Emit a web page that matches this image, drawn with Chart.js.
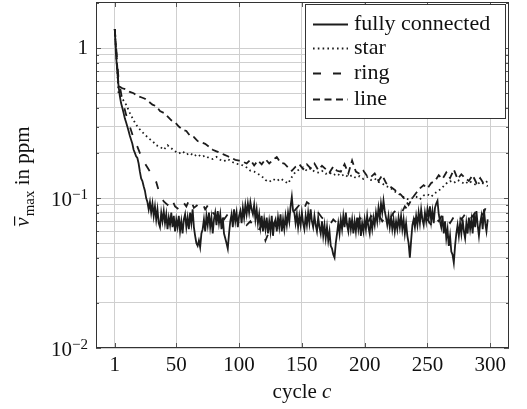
<!DOCTYPE html>
<html>
<head>
<meta charset="utf-8">
<script src="https://cdn.jsdelivr.net/npm/chart.js@4.4.0/dist/chart.umd.min.js"></script>
<style>
html, body { margin: 0; padding: 0; background: #fff; }
</style>
</head>
<body>
<canvas id="chart" width="527" height="409"></canvas>
<script>
// fully connected is read for every cycle 1..298, the others every 3rd cycle
var cyclesAll = [];
for (var c = 1; c <= 298; c++) cyclesAll.push(c);
var cycles3 = [];
for (var c = 1; c <= 298; c += 3) cycles3.push(c);

var fullyConnected = [
  1.34,0.9,0.7,0.56,0.48,0.43,0.40,0.37,0.34,0.32,
  0.30,0.28,0.26,0.245,0.23,0.21,0.2,0.19,0.185,0.17,
  0.15,0.135,0.13,0.12,0.112,0.1,0.094,0.084,0.094,0.08,
  0.092,0.076,0.088,0.072,0.084,0.068,0.064,0.08,0.07,0.082,
  0.068,0.078,0.062,0.074,0.066,0.08,0.064,0.076,0.06,0.072,
  0.064,0.076,0.06,0.07,0.058,0.072,0.078,0.064,0.074,0.062,
  0.08,0.068,0.084,0.064,0.056,0.05,0.048,0.052,0.047,0.058,
  0.062,0.072,0.06,0.076,0.066,0.08,0.064,0.074,0.058,0.072,
  0.08,0.066,0.082,0.068,0.078,0.062,0.074,0.058,0.054,0.05,
  0.046,0.058,0.07,0.078,0.064,0.084,0.07,0.08,0.064,0.076,
  0.082,0.068,0.086,0.074,0.09,0.078,0.092,0.08,0.094,0.084,
  0.078,0.09,0.072,0.084,0.068,0.078,0.064,0.076,0.06,0.072,
  0.062,0.074,0.058,0.07,0.06,0.076,0.056,0.068,0.072,0.06,
  0.074,0.064,0.078,0.06,0.072,0.062,0.076,0.066,0.08,0.07,
  0.088,0.102,0.082,0.08,0.068,0.078,0.064,0.076,0.066,0.08,
  0.068,0.062,0.076,0.066,0.08,0.068,0.084,0.07,0.064,0.076,
  0.066,0.06,0.074,0.064,0.058,0.07,0.056,0.066,0.054,0.064,
  0.052,0.06,0.048,0.046,0.042,0.04,0.05,0.058,0.068,0.058,
  0.072,0.062,0.076,0.064,0.08,0.066,0.06,0.074,0.062,0.072,
  0.058,0.07,0.06,0.074,0.062,0.072,0.056,0.068,0.06,0.072,
  0.062,0.076,0.064,0.058,0.072,0.062,0.074,0.066,0.08,0.07,
  0.086,0.074,0.092,0.08,0.096,0.082,0.074,0.066,0.076,0.064,
  0.074,0.062,0.072,0.06,0.07,0.062,0.074,0.064,0.076,0.062,
  0.072,0.058,0.068,0.056,0.05,0.04,0.052,0.066,0.072,0.064,
  0.076,0.066,0.08,0.068,0.084,0.072,0.066,0.08,0.07,0.084,
  0.074,0.088,0.07,0.082,0.068,0.086,0.092,0.096,0.078,0.07,
  0.064,0.076,0.058,0.07,0.054,0.062,0.048,0.056,0.044,0.042,
  0.037,0.048,0.058,0.066,0.056,0.068,0.058,0.072,0.06,0.054,
  0.068,0.058,0.074,0.062,0.072,0.058,0.078,0.064,0.082,0.066,
  0.056,0.068,0.076,0.062,0.084,0.068,0.06,0.072];

var star = [1.34,0.5,0.46,0.42,0.37,0.33,0.3,0.28,0.265,0.25,
  0.24,0.225,0.22,0.21,0.225,0.215,0.205,0.198,0.205,0.195,
  0.2,0.19,0.196,0.188,0.192,0.185,0.182,0.188,0.18,0.176,
  0.182,0.175,0.17,0.168,0.165,0.16,0.152,0.15,0.145,0.14,
  0.132,0.128,0.134,0.13,0.135,0.13,0.125,0.138,0.15,0.155,
  0.16,0.152,0.158,0.15,0.148,0.152,0.145,0.148,0.142,0.146,
  0.14,0.144,0.138,0.142,0.136,0.14,0.134,0.138,0.132,0.135,
  0.128,0.125,0.12,0.118,0.112,0.108,0.104,0.1,0.098,0.1,
  0.102,0.098,0.104,0.106,0.102,0.108,0.112,0.118,0.125,0.13,
  0.126,0.132,0.128,0.124,0.13,0.126,0.122,0.128,0.124,0.13];

var ring = [1.34,0.62,0.45,0.36,0.3,0.25,0.22,0.19,0.17,0.155,
  0.14,0.128,0.105,0.095,0.09,0.1,0.088,0.084,0.095,0.088,
  0.1,0.086,0.09,0.096,0.084,0.092,0.08,0.075,0.082,0.072,
  0.078,0.07,0.074,0.068,0.072,0.066,0.07,0.064,0.06,0.066,
  0.052,0.06,0.068,0.064,0.058,0.066,0.07,0.078,0.084,0.09,
  0.082,0.094,0.09,0.084,0.08,0.074,0.07,0.066,0.072,0.068,
  0.064,0.07,0.066,0.072,0.068,0.074,0.07,0.066,0.076,0.072,
  0.078,0.07,0.076,0.072,0.08,0.084,0.078,0.088,0.082,0.076,
  0.07,0.074,0.068,0.072,0.066,0.074,0.07,0.078,0.072,0.068,
  0.075,0.08,0.072,0.078,0.07,0.076,0.082,0.074,0.08,0.094];

var line = [1.34,0.56,0.54,0.53,0.51,0.5,0.48,0.47,0.46,0.44,
  0.42,0.41,0.38,0.37,0.35,0.33,0.32,0.3,0.285,0.28,
  0.26,0.255,0.24,0.235,0.23,0.22,0.21,0.205,0.2,0.195,
  0.19,0.185,0.18,0.178,0.175,0.17,0.18,0.165,0.178,0.168,
  0.182,0.17,0.18,0.188,0.172,0.17,0.16,0.152,0.162,0.168,
  0.156,0.168,0.158,0.17,0.154,0.164,0.156,0.148,0.162,0.152,
  0.15,0.168,0.146,0.178,0.15,0.145,0.152,0.14,0.138,0.146,
  0.13,0.142,0.126,0.12,0.115,0.11,0.105,0.098,0.09,0.1,
  0.108,0.116,0.122,0.116,0.126,0.13,0.142,0.134,0.148,0.136,
  0.155,0.134,0.144,0.136,0.13,0.142,0.126,0.136,0.124,0.12];

var seriesNames = ['fully connected', 'star', 'ring', 'line'];
var xTicks = [1, 50, 100, 150, 200, 250, 300];
var yTicks = [0.01,0.02,0.03,0.04,0.05,0.06,0.07,0.08,0.09,
  0.1,0.2,0.3,0.4,0.5,0.6,0.7,0.8,0.9,1,2];
// y labels: [value, mantissa text, exponent text]
var yLabels = [[1, '1', ''], [0.1, '10', '\u22121'], [0.01, '10', '\u22122']];

var FONT = '"Liberation Serif", "DejaVu Serif", serif';
var INK = '#1c1c1c';

function pts(xs, vals) {
  return xs.map(function(c, i) { return { x: c, y: vals[i] }; });
}

function mkSet(label, xs, vals, dash, width) {
  return {
    label: label,
    data: pts(xs, vals),
    borderColor: INK,
    borderWidth: width,
    borderDash: dash,
    borderCapStyle: 'butt',
    borderJoinStyle: 'miter',
    pointRadius: 0,
    fill: false,
    tension: 0
  };
}

var decor = {
  id: 'decor',
  afterDraw: function(chart) {
    var ctx = chart.ctx, a = chart.chartArea;
    var xs = chart.scales.x, ys = chart.scales.y;
    ctx.save();

    // small tick marks inside the frame
    ctx.strokeStyle = '#555';
    ctx.lineWidth = 1;
    ctx.beginPath();
    yTicks.forEach(function(v) {
      var y = Math.round(ys.getPixelForValue(v)) + 0.5;
      var len = (v === 1 || v === 0.1 || v === 0.01) ? 5 : 3;
      ctx.moveTo(a.left, y); ctx.lineTo(a.left + len, y);
      ctx.moveTo(a.right, y); ctx.lineTo(a.right - len, y);
    });
    xTicks.forEach(function(v) {
      var x = Math.round(xs.getPixelForValue(v)) + 0.5;
      ctx.moveTo(x, a.bottom); ctx.lineTo(x, a.bottom - 5);
      ctx.moveTo(x, a.top); ctx.lineTo(x, a.top + 5);
    });
    ctx.stroke();

    // frame
    ctx.strokeStyle = '#333';
    ctx.strokeRect(a.left + 0.5, a.top + 0.5, a.right - a.left - 1, a.bottom - a.top - 1);

    // y tick labels with superscript exponent
    ctx.fillStyle = '#111';
    ctx.textAlign = 'right';
    ctx.textBaseline = 'alphabetic';
    yLabels.forEach(function(l) {
      var y = ys.getPixelForValue(l[0]);
      var rx = a.left - 8;
      if (l[2]) {
        ctx.font = '15px ' + FONT;
        var we = ctx.measureText(l[2]).width;
        ctx.fillText(l[2], rx, y + 1);
        ctx.font = '21px ' + FONT;
        ctx.fillText(l[1], rx - we, y + 8);
      } else {
        ctx.font = '21px ' + FONT;
        ctx.fillText(l[1], rx, y + 6);
      }
    });
    ctx.textAlign = 'left';

    // legend
    var lx = 305, ly = 4, lw = 200, lh = 114;
    ctx.fillStyle = '#fff';
    ctx.fillRect(lx, ly, lw, lh);
    ctx.strokeStyle = '#333';
    ctx.strokeRect(lx + 0.5, ly + 0.5, lw, lh);
    var rows = [24, 48, 73, 99];
    chart.data.datasets.forEach(function(ds, i) {
      ctx.strokeStyle = INK;
      ctx.lineWidth = ds.borderWidth;
      ctx.setLineDash(ds.borderDash || []);
      ctx.beginPath();
      ctx.moveTo(313, rows[i] + 0.5);
      ctx.lineTo(348, rows[i] + 0.5);
      ctx.stroke();
      ctx.setLineDash([]);
      ctx.fillStyle = '#111';
      ctx.font = '22px ' + FONT;
      ctx.textBaseline = 'middle';
      ctx.fillText(ds.label, 354, rows[i]);
    });

    // y axis title
    ctx.fillStyle = '#111';
    ctx.textBaseline = 'alphabetic';
    ctx.translate(29, 177);
    ctx.rotate(-Math.PI / 2);
    var big = '21px ' + FONT, small = '15px ' + FONT;
    ctx.font = 'italic ' + big; var w1 = ctx.measureText('\u03BD').width;
    ctx.font = small; var w2 = ctx.measureText('max').width;
    ctx.font = big; var w3 = ctx.measureText(' in ppm').width;
    var x0 = -(w1 + w2 + w3) / 2;
    ctx.font = 'italic ' + big; ctx.fillText('\u03BD', x0, 0);
    ctx.fillRect(x0 + 1, -15, w1, 1.2);
    ctx.font = small; ctx.fillText('max', x0 + w1 + 1, 5);
    ctx.font = big; ctx.fillText(' in ppm', x0 + w1 + w2 + 1, 0);
    ctx.setTransform(1, 0, 0, 1, 0, 0);

    // x axis title
    ctx.font = big; var c1 = ctx.measureText('cycle ').width;
    ctx.font = 'italic ' + big; var c2 = ctx.measureText('c').width;
    var cx = 302 - (c1 + c2) / 2;
    ctx.font = big; ctx.fillText('cycle ', cx, 398);
    ctx.font = 'italic ' + big; ctx.fillText('c', cx + c1, 398);

    ctx.restore();
  }
};

new Chart(document.getElementById('chart').getContext('2d'), {
  type: 'line',
  data: {
    datasets: [
      mkSet(seriesNames[0], cyclesAll, fullyConnected, [], 1.8),
      mkSet(seriesNames[1], cycles3, star, [1.6, 3.2], 1.8),
      mkSet(seriesNames[2], cycles3, ring, [8, 12], 1.8),
      mkSet(seriesNames[3], cycles3, line, [7, 4.5], 1.8)
    ]
  },
  options: {
    responsive: false,
    animation: false,
    layout: { padding: { top: 2, right: 18, left: 0, bottom: 0 } },
    plugins: { legend: { display: false }, tooltip: { enabled: false } },
    scales: {
      x: {
        type: 'linear',
        min: -13.95,
        max: 314.95,
        afterBuildTicks: function(s) { s.ticks = xTicks.map(function(v) { return { value: v }; }); },
        afterFit: function(s) { s.height = 61; s.paddingLeft = 0; s.paddingRight = 0; },
        ticks: { autoSkip: false, maxRotation: 0, padding: 5, color: '#111', font: { family: FONT, size: 21 } },
        grid: { color: '#cfcfcf', drawTicks: false },
        border: { display: false }
      },
      y: {
        type: 'logarithmic',
        min: 0.01,
        max: 2.03,
        afterBuildTicks: function(s) { s.ticks = yTicks.map(function(v) { return { value: v }; }); },
        afterFit: function(s) { s.width = 96; s.paddingTop = 0; s.paddingBottom = 0; },
        ticks: { autoSkip: false, display: true, padding: 8, callback: function() { return ''; } },
        grid: { color: '#cfcfcf', drawTicks: false },
        border: { display: false }
      }
    }
  },
  plugins: [decor]
});
</script>
</body>
</html>
